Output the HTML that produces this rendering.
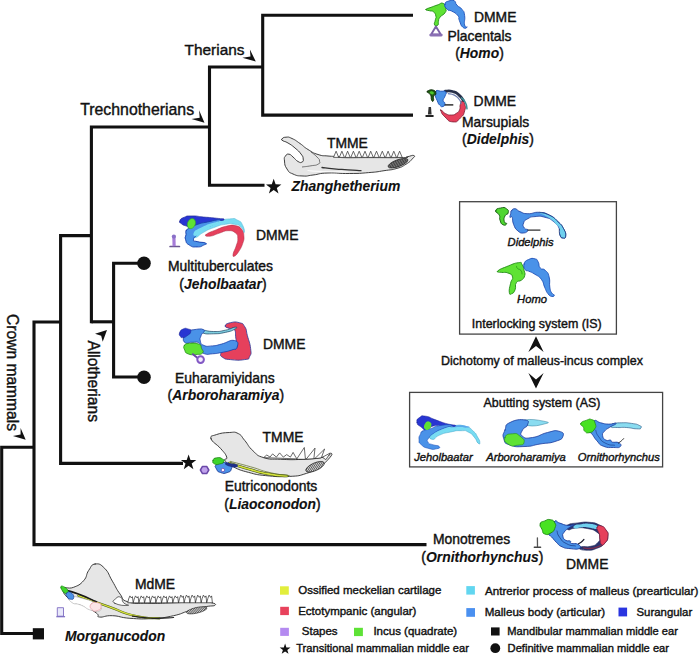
<!DOCTYPE html>
<html>
<head>
<meta charset="utf-8">
<style>
html,body{margin:0;padding:0;background:#fff;}
body{width:700px;height:657px;overflow:hidden;}
svg{display:block;}
text{font-family:"Liberation Sans",sans-serif;fill:#111;stroke:#111;stroke-width:0.4px;}
.c{font-size:15.6px;}
.t{font-size:13.9px;}
.bi{font-weight:bold;font-style:italic;stroke-width:0.1px;}
.s{font-size:11.2px;font-style:italic;}
.m{font-size:12.45px;}
.l{font-size:11.5px;}
.l2{font-size:11.13px;}
</style>
</head>
<body>
<svg width="700" height="657" viewBox="0 0 700 657">
<rect width="700" height="657" fill="#fff"/>
<defs>
<pattern id="hatch" width="1.6" height="1.6" patternUnits="userSpaceOnUse" patternTransform="rotate(55)"><rect width="1.6" height="1.6" fill="#d8d8d8"/><rect width="0.7" height="1.6" fill="#444"/></pattern>
<pattern id="hatch2" width="1.5" height="1.5" patternUnits="userSpaceOnUse" patternTransform="rotate(40)"><rect width="1.5" height="1.5" fill="#777"/><rect width="0.6" height="1.5" fill="#333"/></pattern>
</defs>
<g id="tree" fill="none" stroke="#111" stroke-width="3.1" stroke-linejoin="miter" stroke-linecap="butt">
<path d="M34 633.5 H1.7 V447.3 H34"/>
<path d="M426.5 544.6 H34 V322 H60.6"/>
<path d="M183 463.4 H60.6 V235.6 H91.4"/>
<path d="M140 377 H113.6 V263.2 H140"/>
<path d="M91.4 321.8 H113.6"/>
<path d="M91.4 323.3 V127 H209.5"/>
<path d="M264.5 185.2 H209.5 V67 H262.7"/>
<path d="M413 115.1 H262.7 V15.3 H413"/>
</g>
<g id="markers" fill="#111">
<rect x="32.8" y="628.2" width="11.2" height="11.2"/>
<circle cx="144" cy="263.3" r="6.8"/>
<circle cx="144" cy="377.2" r="6.8"/>
</g>
<path d="M273.7 178.8 L275.6 184.3 L281.4 184.4 L276.8 187.9 L278.5 193.5 L273.7 190.1 L268.9 193.5 L270.6 187.9 L266.0 184.4 L271.8 184.3 Z" fill="#111"/><path d="M188.6 454.5 L190.5 460.0 L196.3 460.1 L191.7 463.6 L193.4 469.2 L188.6 465.8 L183.8 469.2 L185.5 463.6 L180.9 460.1 L186.7 460.0 Z" fill="#111"/><path d="M285.1 643.5 L286.4 647.4 L290.5 647.4 L287.3 649.9 L288.5 653.8 L285.1 651.5 L281.7 653.8 L282.9 649.9 L279.7 647.4 L283.8 647.4 Z" fill="#111"/><g id="arrows" fill="#111">
<path d="M255.8 61.6 L249.9 49.4 L250.5 56.5 L242.3 57.7 Z"/>
<path d="M204.5 122.7 L199.1 110.3 L199.7 117.7 L191.5 118.9 Z"/>
<path d="M25.7 439.7 L20.6 428.1 L20.6 434.6 L12.9 435.9 Z"/>
<path d="M107 330 L95 333.7 L101.2 335.8 L102.7 341.7 Z"/>
<path d="M536 336.3 L543.6 351.9 L536 346 L528.4 351.9 Z"/>
<path d="M536 388.5 L543.6 373 L536 379.5 L528.4 373 Z"/>
</g>
<g id="labels">
<text class="c" x="184.6" y="54.6" style="font-size:15.4px">Therians</text>
<text class="c" x="80.2" y="114.6" style="font-size:15.85px">Trechnotherians</text>
<text class="c" transform="translate(7 314) rotate(90)">Crown mammals</text>
<text class="c" transform="translate(88.3 340.5) rotate(90)">Allotherians</text>

<text class="t" x="474" y="21.8">DMME</text>
<text class="t" x="479.5" text-anchor="middle" y="41">Placentals</text>
<text class="t" x="479.5" text-anchor="middle" y="57.5">(<tspan class="bi">Homo</tspan>)</text>

<text class="t" x="473.6" y="106.4">DMME</text>
<text class="t" x="495.6" y="127.3" text-anchor="middle">Marsupials</text>
<text class="t" x="498" text-anchor="middle" y="143.5">(<tspan class="bi">Didelphis</tspan>)</text>

<text class="t" x="326.9" y="148">TMME</text>
<text class="t bi" x="291.5" y="190.5">Zhanghetherium</text>

<text class="t" x="256" y="240">DMME</text>
<text class="t" x="220.5" text-anchor="middle" y="270.5">Multituberculates</text>
<text class="t" x="223" text-anchor="middle" y="288.5">(<tspan class="bi">Jeholbaatar</tspan>)</text>

<text class="t" x="263" y="349">DMME</text>
<text class="t" x="224.8" text-anchor="middle" y="383.3">Euharamiyidans</text>
<text class="t" x="225.9" text-anchor="middle" y="400.3">(<tspan class="bi">Arboroharamiya</tspan>)</text>

<text class="t" x="262.6" y="442.2">TMME</text>
<text class="t" x="271" text-anchor="middle" y="491">Eutriconodonts</text>
<text class="t" x="272.5" text-anchor="middle" y="509">(<tspan class="bi">Liaoconodon</tspan>)</text>

<text class="t" x="471.5" text-anchor="middle" y="544">Monotremes</text>
<text class="t" x="482.3" text-anchor="middle" y="561.5">(<tspan class="bi">Ornithorhynchus</tspan>)</text>
<text class="t" x="566" y="569">DMME</text>

<text class="t" x="135" y="589">MdME</text>
<text class="t bi" x="65" y="640.5">Morganucodon</text>
</g>
<g id="boxes" fill="none" stroke="#444" stroke-width="1.3">
<rect x="459.6" y="201.7" width="156.8" height="132.4"/>
<rect x="409.6" y="392.4" width="253" height="74.5"/>
</g>
<g id="boxtext">
<text class="s" x="530.6" y="246.2" text-anchor="middle">Didelphis</text>
<text class="s" x="532" y="303" text-anchor="middle">Homo</text>
<text class="m" x="536.8" y="327.5" text-anchor="middle">Interlocking system (IS)</text>
<text class="m" x="542" y="364.6" text-anchor="middle">Dichotomy of malleus-incus complex</text>
<text class="m" x="542" y="407.2" text-anchor="middle">Abutting system (AS)</text>
<text class="s" x="443.4" y="460.8" text-anchor="middle">Jeholbaatar</text>
<text class="s" x="526" y="460.8" text-anchor="middle">Arboroharamiya</text>
<text class="s" x="618.8" y="460.8" text-anchor="middle">Ornithorhynchus</text>
</g>
<g id="legend">
<rect x="280" y="586.3" width="8.8" height="8.4" fill="#e2ee3c"/>
<text class="l" x="298.2" y="594.2">Ossified meckelian cartilage</text>
<rect x="280.2" y="606.8" width="8.7" height="8.3" fill="#e8425c"/>
<text class="l" x="298.2" y="614.8">Ectotympanic (angular)</text>
<rect x="280.2" y="627.8" width="8.7" height="8.1" fill="#b48af0"/>
<text class="l" x="301.8" y="634.6">Stapes</text>
<rect x="354" y="627.8" width="8.9" height="8.3" fill="#5ee236"/>
<text class="l" x="373.4" y="634.8">Incus (quadrate)</text>
<text class="l2" x="296.2" y="652.2">Transitional mammalian middle ear</text>
<rect x="466.3" y="586.1" width="8.6" height="8.5" fill="#62d6f0"/>
<text class="l" x="485" y="594.9" style="font-size:11.6px">Antrerior process of malleus (prearticular)</text>
<rect x="466.3" y="608.1" width="8.7" height="8.7" fill="#4a90f0"/>
<text class="l" x="484.7" y="616.3" style="font-size:11.6px">Malleus body (articular)</text>
<rect x="618.5" y="607.6" width="8.6" height="8.8" fill="#2a35e0"/>
<text class="l" x="636.5" y="616.3" style="font-size:11.4px">Surangular</text>
<rect x="491" y="627.4" width="8.6" height="8.1" fill="#111"/>
<text class="l2" x="507.3" y="635.1">Mandibular mammalian middle ear</text>
<circle cx="495.3" cy="648.2" r="4.9" fill="#111"/>
<text class="l2" x="507.6" y="651.5">Definitive mammalian middle ear</text>
</g>
<g id="homo_top"><path d="M426.0 9.4 C426.6 8.3 427.4 8.7 431.1 7.3 C434.9 5.9 433.1 6.4 437.1 5.1 C441.1 3.9 440.3 2.3 443.1 3.4 C446.0 4.6 445.1 5.4 445.7 8.6 C446.3 11.7 446.7 10.0 444.9 12.9 C443.0 15.7 442.3 14.3 440.1 17.1 C438.0 20.0 439.1 18.9 438.4 21.4 C437.7 24.0 439.3 23.7 438.0 24.9 C436.7 26.0 435.4 26.6 434.6 24.9 C433.7 23.1 435.0 22.6 435.4 19.7 C435.9 16.9 436.4 18.9 435.9 16.3 C435.3 13.7 435.9 13.9 433.7 12.0 C431.6 10.1 432.0 11.6 429.4 10.7 C426.9 9.9 425.4 10.6 426.0 9.4 Z" fill="#5fe234" stroke="#1f8a14" stroke-width="0.9" stroke-linejoin="round" stroke-linecap="round"/><path d="M444.9 4.3 C445.4 1.4 446.0 2.0 449.1 0.9 C452.3 -0.3 451.7 -0.6 454.3 0.9 C456.9 2.3 454.3 2.3 456.9 5.1 C459.4 8.0 459.4 6.0 462.0 9.4 C464.6 12.9 463.7 10.3 464.6 15.4 C465.4 20.6 463.7 21.0 464.6 24.9 C465.4 28.7 467.7 26.2 467.1 27.0 C466.6 27.8 465.4 29.4 462.9 27.3 C460.3 25.1 461.1 24.5 459.4 20.6 C457.7 16.6 460.3 18.6 457.7 15.4 C455.1 12.3 455.1 13.1 451.7 11.1 C448.3 9.1 449.7 11.7 447.4 9.4 C445.1 7.1 444.3 7.1 444.9 4.3 Z" fill="#4a92e8" stroke="#1c4fb8" stroke-width="0.9" stroke-linejoin="round" stroke-linecap="round"/><path d="M435.9 26.4 L431.1 34.5 L440.8 34.5 Z" fill="#fff" stroke="#7c62a8" stroke-width="1.9" stroke-linejoin="round"/><path d="M430.7 35.1 L441.3 35.1" fill="none" stroke="#8a70b4" stroke-width="2.8" stroke-linecap="round"/></g>
<g id="didelphis_top"><path d="M440.8 110.4 C441.6 112.3 440.8 113.1 444.9 116.9 C448.9 120.7 447.9 121.5 453.0 121.9 C458.1 122.2 456.4 121.7 460.3 118.0 C464.2 114.3 463.3 115.4 464.7 110.7 C466.2 106.0 465.3 107.1 464.6 103.9 C463.8 100.6 463.9 100.6 462.4 100.9 C461.0 101.1 461.2 101.6 460.3 104.5 C459.3 107.5 460.9 106.8 459.6 109.7 C458.3 112.6 459.2 111.5 456.4 113.3 C453.7 115.1 454.9 114.9 451.3 115.0 C447.7 115.1 448.7 115.0 445.7 113.7 C442.8 112.4 444.1 112.3 442.5 111.1 C440.8 110.0 440.0 108.5 440.8 110.4 Z" fill="#e6405c" stroke="#7a2035" stroke-width="0.8" stroke-linejoin="round" stroke-linecap="round"/><path d="M445.3 91.2 C447.7 91.3 448.0 90.2 452.6 91.5 C457.1 92.8 455.4 92.1 459.0 95.1 C462.6 98.1 461.9 98.7 463.3 100.4" fill="none" stroke="#27304a" stroke-width="2.8" stroke-linecap="round"/><path d="M461.6 97.9 C462.9 99.4 463.6 98.9 465.4 102.6 C467.2 106.2 466.5 106.7 467.0 108.8" fill="none" stroke="#3f8f96" stroke-width="1.5" stroke-linecap="round"/><path d="M448.3 93.6 C450.3 94.1 450.7 93.3 454.3 95.1 C457.9 97.0 456.7 96.4 459.0 99.1 C461.3 101.9 460.4 102.0 461.1 103.4" fill="none" stroke="#6e7fb0" stroke-width="1.2" stroke-linecap="round"/><path d="M436.3 91.0 C438.0 89.6 437.4 90.9 440.6 91.2 C443.7 91.5 444.2 90.2 445.7 91.9 C447.2 93.5 445.9 93.3 445.0 96.1 C444.2 99.0 443.2 98.0 443.1 100.4 C443.1 102.9 444.9 101.4 444.9 103.4 C444.9 105.4 444.9 105.9 443.1 106.4 C441.4 107.0 441.7 107.1 439.7 105.1 C437.7 103.1 438.6 103.7 437.1 100.4 C435.7 97.1 435.7 98.4 435.4 95.3 C435.1 92.1 434.6 92.4 436.3 91.0 Z" fill="#4a92e8" stroke="#1c4fb8" stroke-width="0.9" stroke-linejoin="round" stroke-linecap="round"/><path d="M427.3 91.4 C428.7 90.4 430.0 89.3 432.9 90.0 C435.7 90.7 435.6 91.5 435.9 93.6 C436.1 95.6 434.5 93.8 433.7 96.1 C432.9 98.5 434.2 99.3 433.5 100.6 C432.7 101.9 432.5 101.8 431.6 100.0 C430.7 98.2 431.7 97.6 430.7 95.3 C429.7 93.0 429.7 94.4 428.6 93.1 C427.4 91.9 425.9 92.5 427.3 91.4 Z" fill="#1e5a12" stroke="#0c2a08" stroke-width="0.9" stroke-linejoin="round" stroke-linecap="round"/><path d="M429.9 92.0 C430.3 91.2 431.6 91.2 432.9 91.7 C434.1 92.2 434.1 92.7 433.7 93.6 C433.3 94.4 432.9 94.8 431.6 94.3 C430.3 93.7 429.4 92.9 429.9 92.0 Z" fill="#4cc82c" stroke-linejoin="round" stroke-linecap="round"/><path d="M444.7 104.9 L453.3 104.9" fill="none" stroke="#111" stroke-width="1.3"/><path d="M428.6 106.9 L431.0 106.9 L431.6 114.6 L427.9 114.6 Z" fill="#333"/><path d="M426.2 116.0 L432.9 116.0" fill="none" stroke="#222" stroke-width="1.8" stroke-linecap="round"/></g>
<g id="zhang"><path d="M282.0 139.0 C282.9 137.9 283.0 137.3 286.0 137.2 C289.0 137.0 287.8 136.6 292.0 138.5 C296.2 140.4 295.2 140.2 300.0 143.5 C304.8 146.8 302.6 146.2 308.0 149.5 C313.4 152.8 312.0 152.6 318.0 154.5 C324.0 156.4 322.0 155.4 328.0 156.0 C334.0 156.6 333.5 156.1 338.0 156.6 C342.5 157.1 333.7 157.3 342.9 157.6 C352.0 157.9 350.8 157.6 368.6 157.6 C386.3 157.6 390.4 157.8 402.0 157.6 C413.6 157.4 403.6 157.4 407.1 156.8 C410.7 156.2 412.3 154.9 413.8 155.5 C415.4 156.2 414.7 156.3 412.3 158.9 C409.9 161.5 410.5 161.4 405.9 164.3 C401.2 167.1 403.4 166.5 396.9 168.4 C390.3 170.3 392.5 169.4 384.0 170.7 C375.5 172.0 379.0 171.8 368.6 172.6 C358.2 173.5 361.5 173.4 349.3 173.5 C337.1 173.7 338.9 172.6 328.0 173.0 C317.1 173.4 320.5 174.1 313.0 175.0 C305.5 175.9 309.0 176.3 303.0 176.0 C297.0 175.7 297.8 176.1 293.0 174.0 C288.2 171.9 289.6 172.9 287.0 169.0 C284.4 165.1 284.9 164.9 284.5 161.0 C284.1 157.1 284.1 158.0 285.5 156.0 C286.9 154.0 286.8 153.9 289.0 154.2 C291.2 154.5 290.3 154.8 293.0 157.0 C295.7 159.2 295.3 160.0 298.0 161.5 C300.7 163.0 300.4 162.8 302.0 162.0 C303.6 161.2 303.5 161.4 303.2 159.0 C302.9 156.6 303.5 157.3 301.0 154.0 C298.5 150.7 298.9 151.3 295.0 148.0 C291.1 144.7 291.6 145.2 288.0 143.0 C284.4 140.8 284.8 142.0 283.0 140.8 C281.2 139.6 281.1 140.1 282.0 139.0 Z" fill="#e6e6e6" stroke="#2a2a2a" stroke-width="0.9" stroke-linejoin="round" stroke-linecap="round"/><path d="M302.0 167.0 C305.0 166.6 305.7 166.7 311.0 165.8 C316.3 164.9 315.2 165.8 318.0 164.2 C320.8 162.6 319.8 163.4 319.5 161.0 C319.2 158.6 319.8 160.0 317.0 157.0 C314.2 154.0 313.0 153.7 311.0 152.0" fill="none" stroke="#444" stroke-width="0.7"/><path d="M322.0 167.5 C326.0 167.9 325.3 168.0 334.0 168.8 C342.7 169.6 339.0 169.2 348.0 169.8 C357.0 170.4 356.7 170.3 361.0 170.6" fill="none" stroke="#333" stroke-width="1.3" stroke-linecap="round"/><path d="M308.0 170.5 C313.0 170.8 309.7 171.0 323.0 171.5 C336.3 172.0 339.7 171.8 348.0 172.0" fill="none" stroke="#fff" stroke-width="1.2" stroke-linecap="round" opacity="0.8"/><path d="M333.5 157.4 L336.1 151.2 L338.7 157.4 Z" fill="#fff" stroke="#2a2a2a" stroke-width="0.7" stroke-linejoin="round"/><path d="M339.3 157.4 L341.9 151.2 L344.4 157.4 Z" fill="#fff" stroke="#2a2a2a" stroke-width="0.7" stroke-linejoin="round"/><path d="M345.1 157.4 L347.6 151.2 L350.2 157.4 Z" fill="#fff" stroke="#2a2a2a" stroke-width="0.7" stroke-linejoin="round"/><path d="M350.8 157.4 L353.4 151.2 L356.0 157.4 Z" fill="#fff" stroke="#2a2a2a" stroke-width="0.7" stroke-linejoin="round"/><path d="M356.6 157.4 L359.2 151.2 L361.8 157.4 Z" fill="#fff" stroke="#2a2a2a" stroke-width="0.7" stroke-linejoin="round"/><path d="M362.4 157.4 L365.0 151.2 L367.5 157.4 Z" fill="#fff" stroke="#2a2a2a" stroke-width="0.7" stroke-linejoin="round"/><path d="M368.2 157.4 L370.7 151.2 L373.3 157.4 Z" fill="#fff" stroke="#2a2a2a" stroke-width="0.7" stroke-linejoin="round"/><path d="M373.9 157.4 L376.5 151.2 L379.1 157.4 Z" fill="#fff" stroke="#2a2a2a" stroke-width="0.7" stroke-linejoin="round"/><path d="M379.7 157.4 L382.3 151.2 L384.9 157.4 Z" fill="#fff" stroke="#2a2a2a" stroke-width="0.7" stroke-linejoin="round"/><path d="M385.5 157.4 L388.1 151.2 L390.6 157.4 Z" fill="#fff" stroke="#2a2a2a" stroke-width="0.7" stroke-linejoin="round"/><path d="M391.2 157.4 L393.8 151.2 L396.4 157.4 Z" fill="#fff" stroke="#2a2a2a" stroke-width="0.7" stroke-linejoin="round"/><path d="M397.0 157.4 L399.6 151.2 L402.2 157.4 Z" fill="#fff" stroke="#2a2a2a" stroke-width="0.7" stroke-linejoin="round"/><ellipse cx="398" cy="163.2" rx="10.5" ry="3.4" transform="rotate(-20 398 163.2)" fill="url(#hatch2)" stroke="#222" stroke-width="0.7"/></g>
<g id="jehol"><path d="M205.9 234.6 C207.6 232.8 210.9 231.9 216.4 229.7 C222.0 227.4 221.7 227.2 226.7 226.1 C231.7 225.0 231.1 224.8 235.1 225.6 C239.0 226.3 239.1 226.2 241.5 228.9 C243.9 231.7 243.6 231.9 243.9 235.9 C244.3 239.8 244.0 239.5 242.7 243.6 C241.3 247.7 241.1 247.9 238.9 251.3 C236.7 254.6 236.0 255.5 234.4 256.2 C232.9 256.9 232.7 256.5 233.1 253.9 C233.6 251.2 234.9 250.2 236.1 246.1 C237.3 242.1 237.9 242.2 237.8 238.7 C237.6 235.2 238.1 235.2 235.5 233.0 C232.9 230.9 232.4 230.6 228.0 230.7 C223.6 230.8 223.8 231.8 219.0 233.3 C214.2 234.8 213.5 235.9 210.0 236.2 C206.5 236.6 204.2 236.3 205.9 234.6 Z" fill="#e6405c" stroke="#a83048" stroke-width="0.5" stroke-linejoin="round" stroke-linecap="round"/><path d="M191.4 231.4 C195.0 227.9 195.2 228.8 203.6 225.6 C211.9 222.4 207.9 223.9 216.4 221.7 C225.0 219.5 222.2 219.4 229.3 218.9 C236.4 218.4 233.1 217.9 237.6 220.2 C242.1 222.4 240.6 221.4 242.8 225.6 C244.9 229.7 244.6 232.1 244.1 232.6 C243.5 233.2 244.3 229.9 241.1 227.1 C237.9 224.3 239.7 225.2 234.4 224.3 C229.2 223.3 232.3 223.2 225.4 224.3 C218.6 225.4 221.1 225.0 213.9 227.6 C206.6 230.3 209.6 229.0 203.6 232.3 C197.6 235.5 199.5 236.2 195.9 237.4 C192.2 238.6 194.1 237.9 192.6 235.9 C191.1 233.8 187.7 234.8 191.4 231.4 Z" fill="#78dcf2" stroke="#4ab0d0" stroke-width="0.5" stroke-linejoin="round" stroke-linecap="round"/><path d="M179.8 221.1 C180.6 218.8 180.2 218.9 184.3 217.2 C188.4 215.5 185.6 216.0 192.0 215.9 C198.4 215.8 195.4 216.2 203.6 217.0 C211.7 217.7 209.6 217.4 216.4 218.2 C223.3 219.1 224.1 218.3 224.1 219.4 C224.1 220.5 222.4 220.2 216.4 221.5 C210.4 222.7 212.6 222.1 206.1 223.3 C199.7 224.4 202.3 223.6 197.1 224.9 C192.0 226.2 194.6 226.8 190.7 227.1 C186.9 227.4 188.6 226.9 185.6 225.8 C182.6 224.8 183.6 225.5 181.7 223.9 C179.8 222.3 178.9 223.3 179.8 221.1 Z" fill="#2836d2" stroke="#1a2290" stroke-width="0.6" stroke-linejoin="round" stroke-linecap="round"/><path d="M186.2 230.7 C187.4 228.6 185.8 230.2 189.4 228.1 C193.1 226.1 191.1 226.6 197.1 224.5 C203.1 222.5 199.7 223.5 207.4 222.0 C215.1 220.4 218.1 219.1 220.3 219.9 C222.4 220.7 219.4 221.3 213.9 224.3 C208.3 227.2 209.1 225.4 203.6 228.8 C198.0 232.2 200.5 230.9 197.1 234.6 C193.8 238.2 193.5 237.4 193.5 239.7 C193.5 242.1 193.2 240.5 197.1 241.6 C201.1 242.8 203.4 241.9 205.5 243.1 C207.6 244.2 206.4 243.8 203.6 245.1 C200.8 246.4 201.9 246.9 197.1 246.9 C192.4 246.9 193.3 247.5 189.4 245.1 C185.6 242.7 186.7 243.2 185.6 239.7 C184.4 236.2 185.7 237.6 186.0 234.6 C186.2 231.6 185.1 232.9 186.2 230.7 Z" fill="#4a92e8" stroke="#1c44b0" stroke-width="1.0" stroke-linejoin="round" stroke-linecap="round"/><path d="M193.9 232.6 C195.4 229.8 196.1 230.3 202.3 227.1 C208.5 223.9 206.1 225.0 212.6 223.0 C219.0 221.0 220.5 220.6 221.6 221.1 C222.6 221.6 221.1 221.8 215.8 224.5 C210.4 227.2 211.5 225.5 205.5 229.2 C199.5 232.9 201.6 234.4 197.8 235.6 C193.9 236.8 192.4 235.5 193.9 232.6 Z" fill="#78dcf2" stroke-linejoin="round" stroke-linecap="round"/><ellipse cx="191.4" cy="223.6" rx="3.9" ry="5.2" transform="rotate(22 191.4 223.6)" fill="#5fe234" stroke="#2faa20" stroke-width="0.5"/><path d="M170.1 246.5 L179.4 246.5" fill="none" stroke="#6a5690" stroke-width="1.7" stroke-linecap="round"/><path d="M173.9 236.9 L174.1 246.1" fill="none" stroke="#a67cd8" stroke-width="3.2"/><circle cx="173.9" cy="236.6" r="2.1" fill="#8a70c8"/></g>
<g id="arboro"><path d="M225.3 325.9 C225.6 324.2 226.2 323.7 230.4 322.7 C234.7 321.8 235.1 321.5 239.4 322.7 C243.7 323.9 242.4 323.0 244.8 326.8 C247.2 330.7 245.7 329.1 247.4 335.6 C249.1 342.1 249.9 342.2 250.6 348.4 C251.3 354.7 251.5 353.0 249.7 356.4 C247.9 359.8 250.4 358.6 244.6 359.6 C238.8 360.6 237.0 360.3 230.4 359.6 C223.9 359.0 225.6 359.2 222.7 357.4 C219.8 355.6 220.4 355.4 220.8 353.6 C221.2 351.7 220.7 352.4 224.0 351.3 C227.3 350.1 227.9 350.9 231.7 349.7 C235.6 348.5 235.6 350.6 236.9 347.1 C238.1 343.7 236.6 343.5 235.8 338.1 C235.1 332.8 236.2 332.3 234.3 329.4 C232.4 326.5 232.1 329.4 229.4 328.4 C226.7 327.3 225.0 327.6 225.3 325.9 Z" fill="#e6405c" stroke="#2a3a9a" stroke-width="0.8" stroke-linejoin="round" stroke-linecap="round"/><path d="M202.1 330.2 C205.8 329.7 206.0 331.5 213.7 331.5 C221.4 331.5 218.2 331.6 225.3 330.2 C232.4 328.8 231.9 327.5 234.9 327.2 C237.9 327.0 237.5 327.7 234.3 329.4 C231.1 331.1 232.1 330.9 225.3 332.4 C218.4 333.8 221.2 333.6 213.7 333.8 C206.2 334.0 206.6 334.2 202.8 333.0 C198.9 331.8 198.5 330.7 202.1 330.2 Z" fill="#7ecfe0" stroke="#1a4060" stroke-width="0.7" stroke-linejoin="round" stroke-linecap="round"/><path d="M186.7 331.7 C189.6 329.6 188.1 330.4 193.1 329.8 C198.2 329.2 201.3 328.1 203.7 329.8 C206.1 331.5 202.1 332.3 201.1 335.6 C200.1 338.8 199.6 337.8 200.3 340.7 C201.1 343.6 200.1 343.8 203.7 345.3 C207.3 346.9 207.1 346.2 212.4 345.9 C217.8 345.5 214.8 345.7 221.4 344.1 C228.1 342.4 229.8 339.5 234.5 340.5 C239.2 341.4 238.0 344.3 237.1 347.1 C236.3 350.0 236.4 348.4 231.7 350.0 C227.0 351.6 227.2 351.4 221.4 352.5 C215.6 353.7 217.4 353.4 212.4 353.8 C207.4 354.2 208.2 355.0 204.7 353.8 C201.2 352.7 202.4 353.1 200.9 350.0 C199.3 346.9 202.3 345.9 199.6 343.5 C196.9 341.2 196.1 342.5 191.9 342.3 C187.6 342.0 187.9 344.4 185.4 342.8 C182.9 341.2 183.1 340.2 183.5 336.9 C183.9 333.5 183.8 333.8 186.7 331.7 Z" fill="#4a92e8" stroke="#1c3fa8" stroke-width="0.8" stroke-linejoin="round" stroke-linecap="round"/><path d="M179.6 333.0 C180.5 330.6 180.1 330.5 182.9 329.1 C185.6 327.8 185.3 328.0 188.0 328.9 C190.7 329.7 191.2 329.4 190.8 331.7 C190.5 334.0 189.6 333.9 187.0 335.8 C184.3 337.8 185.1 337.5 182.9 337.6 C180.6 337.8 181.4 337.9 180.3 336.3 C179.2 334.8 178.8 335.4 179.6 333.0 Z" fill="#2836d2" stroke="#1a2290" stroke-width="0.5" stroke-linejoin="round" stroke-linecap="round"/><path d="M184.5 345.3 C185.9 343.4 185.1 343.8 189.3 343.4 C193.5 343.0 194.8 342.6 198.5 344.1 C202.2 345.6 200.5 345.7 201.6 348.4 C202.8 351.1 204.2 351.2 202.4 353.1 C200.6 354.9 200.0 354.2 195.7 354.5 C191.4 354.7 191.3 355.2 188.0 353.8 C184.7 352.5 185.7 352.5 184.7 350.0 C183.6 347.4 183.1 347.3 184.5 345.3 Z" fill="#5fe234" stroke="#228a18" stroke-width="0.8" stroke-linejoin="round" stroke-linecap="round"/><path d="M192.9 354.2 L197.6 358.1" fill="none" stroke="#6a48a8" stroke-width="2" stroke-linecap="round"/><circle cx="200.6" cy="359.6" r="3.3" fill="#f4ecff" stroke="#8258c4" stroke-width="2"/></g>
<g id="liao"><path d="M211.1 438.9 C209.9 435.2 211.6 436.4 216.4 434.6 C221.3 432.9 223.5 432.8 229.3 432.5 C235.1 432.2 234.2 431.5 238.3 433.6 C242.4 435.7 240.8 435.9 244.7 440.4 C248.6 445.0 247.8 446.1 252.9 450.7 C257.9 455.3 256.1 455.3 263.6 457.6 C271.0 459.9 270.4 458.8 280.7 459.3 C291.0 459.7 290.7 459.9 302.1 459.3 C313.6 458.7 315.7 458.7 323.6 457.1 C331.4 455.6 330.2 452.9 331.5 453.5 C332.8 454.1 331.5 455.7 328.3 459.3 C325.0 462.9 325.1 463.2 319.3 467.0 C313.5 470.8 314.4 470.9 306.4 473.4 C298.4 475.9 300.1 475.9 289.3 476.4 C278.4 477.0 276.6 476.7 265.7 475.6 C254.9 474.5 257.1 474.6 248.6 472.4 C240.0 470.1 239.9 470.1 233.6 467.0 C227.3 463.9 226.8 463.2 225.0 460.6 C223.2 457.9 227.9 460.3 226.7 457.1 C225.6 453.9 224.9 453.4 220.7 448.6 C216.5 443.7 212.2 442.6 211.1 438.9 Z" fill="#e6e6e6" stroke="#2a2a2a" stroke-width="0.9" stroke-linejoin="round" stroke-linecap="round"/><path d="M263.6 457.6 L266.8 455.0 L270.0 457.1 L272.6 453.9 L276.4 457.1 L279.6 452.9 L283.3 457.1 L286.7 454.6 L290.4 457.1 L293.1 452.4 L295.7 457.1 L297.4 458.9 Z" fill="#fff" stroke="#2a2a2a" stroke-width="0.7" stroke-linejoin="round"/><path d="M296.8 458.9 L304.3 447.5 L305.4 458.9 Z" fill="#fff" stroke="#2a2a2a" stroke-width="0.7" stroke-linejoin="round" stroke-linecap="round"/><path d="M306.4 458.9 L315.0 448.1 L313.9 458.4 Z" fill="#fff" stroke="#2a2a2a" stroke-width="0.7" stroke-linejoin="round" stroke-linecap="round"/><path d="M315.0 458.4 L324.6 449.0 L321.4 457.6 Z" fill="#fff" stroke="#2a2a2a" stroke-width="0.7" stroke-linejoin="round" stroke-linecap="round"/><path d="M322.7 457.1 L330.4 452.9 L326.1 459.3 Z" fill="#fff" stroke="#2a2a2a" stroke-width="0.7" stroke-linejoin="round" stroke-linecap="round"/><ellipse cx="315.0" cy="466.8" rx="10" ry="3.8" transform="rotate(-24 315.0 466.8)" fill="url(#hatch)" stroke="#222" stroke-width="0.7"/><path d="M229.3 463.1 C235.7 465.1 235.7 465.4 248.6 468.9 C261.4 472.5 255.0 471.5 267.9 473.9 C280.7 476.2 280.7 475.3 287.1 476.0" fill="none" stroke="#3a4a10" stroke-width="2.6" stroke-linecap="round"/><path d="M229.3 463.1 C235.7 465.1 235.7 465.4 248.6 468.9 C261.4 472.5 255.0 471.5 267.9 473.9 C280.7 476.2 280.7 475.3 287.1 476.0" fill="none" stroke="#d4e23c" stroke-width="1.6" stroke-linecap="round"/><path d="M230.4 461.4 C237.1 463.2 237.5 463.1 250.7 466.8 C263.9 470.5 257.1 469.6 270.0 472.6 C282.9 475.5 282.9 474.6 289.3 475.6" fill="none" stroke="#5a6a20" stroke-width="0.7" stroke-linecap="round"/><path d="M216.4 464.6 C218.6 462.5 218.2 462.5 222.9 462.5 C227.5 462.5 227.5 462.5 230.4 464.6 C233.2 466.8 232.5 466.3 231.4 468.9 C230.4 471.6 230.7 471.4 227.1 472.6 C223.6 473.8 224.3 473.8 220.7 472.6 C217.1 471.4 217.9 471.6 216.4 468.9 C215.0 466.3 214.3 466.8 216.4 464.6 Z" fill="#4a92e8" stroke="#16308a" stroke-width="0.8" stroke-linejoin="round" stroke-linecap="round"/><path d="M213.0 460.4 C213.7 458.3 213.7 458.3 216.9 457.8 C220.0 457.3 220.1 457.5 222.4 458.9 C224.7 460.2 224.6 460.1 223.7 461.9 C222.8 463.6 222.6 463.3 219.6 464.0 C216.6 464.7 216.9 465.2 214.7 464.0 C212.5 462.8 212.3 462.4 213.0 460.4 Z" fill="#3ed42a" stroke="#1a7a14" stroke-width="0.7" stroke-linejoin="round" stroke-linecap="round"/><path d="M225.0 463.6 C225.4 462.4 228.2 462.7 232.5 463.6 C236.8 464.4 238.2 465.0 237.9 466.1 C237.5 467.3 235.7 467.9 231.4 467.0 C227.1 466.1 224.6 464.7 225.0 463.6 Z" fill="#20308a" stroke-linejoin="round" stroke-linecap="round"/><circle cx="222.9" cy="470.0" r="1.7" fill="#fff" stroke="#6a3aa8" stroke-width="0.7"/><path d="M208.8 470.0 L206.7 473.6 L202.5 473.6 L200.4 470.0 L202.5 466.4 L206.7 466.4 Z" fill="#c0a2ec" stroke="#6a48a8" stroke-width="1.5" stroke-linejoin="round"/></g>
<g id="ornitho"><path d="M567.7 525.1 C570.6 523.1 571.5 523.7 578.0 522.9 C584.5 522.1 583.3 521.8 589.4 522.3 C595.6 522.9 593.8 522.4 598.6 524.6 C603.4 526.8 602.6 526.2 605.4 529.7 C608.2 533.2 608.2 532.2 607.9 536.3 C607.7 540.4 608.0 539.7 604.5 543.4 C601.0 547.0 601.5 546.5 596.3 548.5 C591.1 550.6 592.3 550.2 587.1 550.2 C582.0 550.3 580.9 549.7 579.1 548.6 C577.4 547.6 578.0 547.5 581.4 546.8 C584.9 546.1 585.8 547.5 590.6 546.3 C595.4 545.2 594.7 545.6 597.4 542.9 C600.2 540.2 600.0 540.7 599.7 537.4 C599.4 534.1 600.3 534.6 596.5 531.9 C592.7 529.3 593.4 529.7 587.1 528.5 C580.9 527.3 581.4 527.7 575.7 528.1 C570.1 528.4 570.7 530.5 568.3 529.7 C565.9 528.8 564.8 527.1 567.7 525.1 Z" fill="#2a3570" stroke="#1a2050" stroke-width="0.6" stroke-linejoin="round" stroke-linecap="round"/><path d="M603.1 544.1 C601.0 545.1 601.4 545.7 596.9 547.1 C592.3 548.6 593.8 548.2 589.4 548.5 C585.0 548.8 585.6 548.1 583.7 547.9" fill="none" stroke="#7a3050" stroke-width="1.4" stroke-linecap="round"/><path d="M574.3 525.8 C576.3 524.3 576.4 524.8 581.4 524.2 C586.5 523.5 584.4 523.4 589.4 523.8 C594.5 524.3 593.7 524.4 596.6 525.5 C599.6 526.7 598.5 526.2 598.3 527.4 C598.2 528.5 599.4 528.9 596.1 529.0 C592.7 529.0 593.2 528.1 588.3 527.5 C583.4 526.9 585.7 526.9 581.4 527.3 C577.2 527.6 577.8 529.0 575.5 528.5 C573.1 528.0 572.4 527.2 574.3 525.8 Z" fill="#6fd0ee" stroke-linejoin="round" stroke-linecap="round"/><path d="M597.2 527.1 C598.3 525.4 598.5 525.0 601.4 526.0 C604.4 527.0 603.8 526.6 606.0 530.0 C608.2 533.4 608.3 531.9 607.9 536.3 C607.6 540.7 607.0 540.5 604.9 543.1 C602.7 545.8 603.1 545.6 601.4 544.3 C599.8 543.0 600.6 542.4 599.9 539.1 C599.3 535.9 600.1 537.2 599.5 534.6 C598.8 531.9 598.8 533.6 598.0 531.1 C597.2 528.7 596.1 528.9 597.2 527.1 Z" fill="#e6405c" stroke="#7a2040" stroke-width="0.8" stroke-linejoin="round" stroke-linecap="round"/><path d="M554.6 521.4 C556.6 519.2 555.8 521.9 559.7 523.1 C563.7 524.3 563.4 525.0 567.7 525.4 C572.0 525.9 573.8 523.8 574.0 524.6 C574.2 525.5 571.3 526.0 568.3 528.3 C565.3 530.6 565.7 529.9 564.1 532.3 C562.4 534.7 562.4 533.9 562.9 536.3 C563.4 538.7 563.5 538.8 565.7 540.3 C567.9 541.7 568.5 540.2 570.2 541.1 C571.9 542.0 569.0 542.4 571.4 543.4 C573.7 544.3 575.6 542.8 578.0 544.3 C580.4 545.8 581.8 547.1 579.4 548.4 C577.0 549.7 575.2 549.1 570.0 548.6 C564.8 548.1 566.1 548.7 562.0 546.8 C557.9 544.9 559.4 545.2 556.3 542.2 C553.2 539.3 553.9 539.4 551.7 537.0 C549.5 534.5 548.5 535.9 548.9 534.0 C549.2 532.1 551.1 534.3 552.9 530.6 C554.6 526.8 552.5 523.7 554.6 521.4 Z" fill="#4a92e8" stroke="#1a3a9a" stroke-width="0.9" stroke-linejoin="round" stroke-linecap="round"/><path d="M556.9 530.6 C557.8 532.9 556.5 533.0 559.7 537.4 C563.0 541.8 561.2 540.9 566.6 543.7 C571.9 546.6 572.7 545.2 575.7 546.0" fill="none" stroke="#16307a" stroke-width="0.7"/><path d="M578.6 543.7 C579.5 543.1 579.6 543.4 581.4 542.0 C583.2 540.6 583.1 540.3 583.9 539.5" fill="none" stroke="#1a1a2a" stroke-width="1.2" stroke-linecap="round"/><path d="M540.3 523.7 C541.2 520.9 541.6 522.2 544.9 520.9 C548.1 519.5 546.8 519.1 550.0 519.7 C553.2 520.3 553.0 519.7 554.6 522.6 C556.2 525.4 556.1 524.9 554.8 528.3 C553.5 531.7 554.1 531.0 550.8 532.9 C547.5 534.8 547.8 535.1 544.9 534.0 C541.9 532.9 543.5 532.9 542.0 529.4 C540.5 526.0 539.3 526.6 540.3 523.7 Z" fill="#48e222" stroke="#1f8a14" stroke-width="0.9" stroke-linejoin="round" stroke-linecap="round"/><path d="M537.4 537.8 L537.5 546.6" fill="none" stroke="#555" stroke-width="1.3" stroke-linecap="round"/><path d="M534.3 547.3 L540.6 547.3" fill="none" stroke="#444" stroke-width="1.4" stroke-linecap="round"/></g>
<g id="morgan"><path d="M95.1 564.0 C99.4 563.5 100.1 563.8 104.7 568.4 C109.3 573.0 108.3 574.4 112.4 581.2 C116.5 588.1 116.0 588.6 120.1 594.1 C124.2 599.6 120.4 599.3 127.8 601.8 C135.2 604.3 135.7 603.1 147.9 603.3 C160.1 603.6 159.9 603.2 173.6 602.8 C187.3 602.4 189.7 601.9 199.3 601.8 C208.9 601.7 205.3 601.4 209.6 602.3 C213.8 603.2 216.6 603.9 215.2 605.1 C213.9 606.4 211.4 605.4 204.4 606.9 C197.4 608.5 197.2 608.5 189.0 610.8 C180.8 613.1 183.2 613.6 173.6 615.7 C164.0 617.7 164.7 617.8 153.0 618.5 C141.3 619.2 140.7 619.0 129.9 618.3 C119.0 617.5 120.5 616.0 112.4 615.7 C104.3 615.3 103.8 617.7 99.5 617.0 C95.3 616.3 100.7 616.2 96.4 613.1 C92.2 610.0 90.4 608.8 83.6 605.4 C76.7 602.0 76.2 604.6 70.7 600.3 C65.2 595.9 62.3 592.4 63.0 588.9 C63.7 585.5 67.8 589.6 73.3 587.4 C78.8 585.2 79.5 585.2 83.6 580.7 C87.7 576.2 85.6 574.9 88.7 570.4 C91.8 566.0 90.9 564.5 95.1 564.0 Z" fill="#e6e6e6" stroke="#2a2a2a" stroke-width="0.9" stroke-linejoin="round" stroke-linecap="round"/><path d="M114.9 603.3 C110.9 601.1 113.7 600.7 115.7 598.7 C117.7 596.7 118.3 596.1 120.9 597.4 C123.4 598.7 121.1 599.9 123.4 602.6 C125.7 605.2 130.6 605.1 127.8 605.4 C125.0 605.7 119.0 605.6 114.9 603.3 Z" fill="#fff" stroke="#2a2a2a" stroke-width="0.7" stroke-linejoin="round" stroke-linecap="round"/><path d="M127.8 602.8 L128.6 599.0 L129.9 595.9 L131.4 598.0 L132.4 596.6 L133.2 602.8 L134.2 599.0 L135.5 595.9 L137.1 598.0 L138.1 596.6 L138.9 602.8 L139.9 599.0 L141.2 595.9 L142.7 598.0 L143.7 596.6 L144.5 602.8 L145.5 599.0 L146.8 595.9 L148.4 598.0 L149.4 596.6 L150.2 602.8 L151.2 599.0 L152.5 595.9 L154.0 598.0 L155.1 596.6 L155.8 602.8 L156.9 599.0 L158.1 595.9 L159.7 598.0 L160.7 596.6 L161.5 602.8 L162.5 599.0 L163.8 595.9 L165.3 598.0 L166.4 596.6 L167.1 602.8 L168.2 599.0 L169.5 595.9 L171.0 598.0 L172.0 596.6 L172.8 602.8 L173.8 599.0 L175.1 595.9 L176.7 598.0 L177.7 596.6 L178.5 602.8 L179.5 598.6 L180.8 595.1 L182.3 597.4 L183.3 595.9 L184.1 602.8 L185.1 598.6 L186.4 595.1 L188.0 597.4 L189.0 595.9 L189.8 602.8 L190.8 598.6 L192.1 595.1 L193.6 597.4 L194.7 595.9 L195.4 602.8 L196.5 598.6 L197.7 595.1 L199.3 597.4 L200.3 595.9 L201.1 602.8 L202.1 598.6 L203.4 595.1 L204.9 597.4 L206.0 595.9 L206.7 602.8 L207.8 598.6 L209.1 595.1 L210.6 597.4 L211.6 595.9 L212.4 602.8 L212.7 602.8 Z" fill="#fff" stroke="#2a2a2a" stroke-width="0.7" stroke-linejoin="round"/><ellipse cx="196.7" cy="610.3" rx="10.5" ry="2.8" transform="rotate(-13 196.7 610.3)" fill="url(#hatch)" stroke="#222" stroke-width="0.6"/><path d="M78.4 595.6 C88.7 599.4 90.4 600.3 109.3 606.9 C128.1 613.6 118.3 611.9 135.0 615.7 C151.7 619.5 151.3 617.4 159.4 618.3" fill="none" stroke="#4a5a18" stroke-width="2.2" stroke-linecap="round"/><path d="M78.4 595.6 C88.7 599.4 90.4 600.3 109.3 606.9 C128.1 613.6 118.3 611.9 135.0 615.7 C151.7 619.5 151.3 617.4 159.4 618.3" fill="none" stroke="#d4e03a" stroke-width="1.3" stroke-linecap="round"/><path d="M132.4 616.2 C139.3 616.9 139.3 617.8 153.0 618.3 C166.7 618.7 166.7 617.7 173.6 617.5" fill="none" stroke="#222" stroke-width="1.2" stroke-linecap="round"/><path d="M63.5 589.7 C68.5 591.2 67.5 590.1 78.4 594.1 C89.4 598.1 90.4 599.2 96.4 601.8" fill="none" stroke="#1a1a1a" stroke-width="1.6" stroke-linecap="round"/><path d="M70.7 597.4 C74.6 596.1 75.0 596.4 83.6 598.7 C92.1 601.0 90.9 600.5 96.4 604.4 C102.0 608.2 102.0 608.3 100.3 610.3 C98.6 612.3 97.7 612.0 91.3 610.3 C84.9 608.6 87.4 607.7 81.0 605.1 C74.6 602.6 75.4 605.1 72.0 602.6 C68.6 600.0 66.9 598.7 70.7 597.4 Z" fill="#fff" stroke="#999" stroke-width="0.5" stroke-linejoin="round" stroke-linecap="round"/><path d="M91.3 603.9 C93.3 601.6 94.5 602.0 97.7 602.8 C101.0 603.7 101.1 603.9 101.1 606.4 C101.1 609.0 100.8 609.5 97.7 610.5 C94.6 611.6 93.9 611.7 91.8 609.5 C89.7 607.3 89.3 606.1 91.3 603.9 Z" fill="#fbe4e6" stroke="#e08a96" stroke-width="0.6" stroke-linejoin="round" stroke-linecap="round"/><path d="M60.9 587.9 C60.3 585.5 61.7 585.4 64.3 586.9 C66.9 588.3 68.1 589.9 68.7 592.3 C69.3 594.7 68.7 595.5 66.1 594.1 C63.5 592.6 61.5 590.3 60.9 587.9 Z" fill="#3ed42a" stroke="#1a7a14" stroke-width="0.6" stroke-linejoin="round" stroke-linecap="round"/><path d="M66.6 593.1 C67.8 591.7 68.3 591.1 70.7 592.5 C73.1 594.0 74.0 595.2 73.8 597.4 C73.6 599.7 72.4 599.5 70.2 599.2 C68.0 599.0 68.3 598.7 67.1 596.7 C65.9 594.6 65.4 594.4 66.6 593.1 Z" fill="#4a92e8" stroke="#16308a" stroke-width="0.6" stroke-linejoin="round" stroke-linecap="round"/><path d="M57.3 607.7 L63.5 607.7 L63.5 616.2 L57.3 616.2 Z" fill="#e8e8fa" stroke="#8a7ac8" stroke-width="1"/><path d="M56.3 616.7 L65.1 616.7" fill="none" stroke="#7a6ac0" stroke-width="1.2"/></g>
<g id="bx1"><path d="M511.4 210.9 C512.7 209.4 512.4 208.5 515.0 208.7 C517.6 208.9 516.1 210.1 520.0 211.6 C523.9 213.1 522.1 213.5 527.9 213.7 C533.6 213.9 532.9 211.9 539.3 212.3 C545.7 212.7 543.7 212.4 549.3 215.1 C554.9 217.9 553.6 217.5 557.9 221.6 C562.1 225.6 561.2 224.4 563.6 228.7 C565.9 233.0 565.9 233.1 565.7 235.9 C565.5 238.6 564.6 238.2 562.9 238.0 C561.1 237.8 561.1 237.9 560.0 235.1 C558.9 232.4 561.2 232.8 559.3 228.7 C557.4 224.6 557.9 225.0 553.6 221.6 C549.3 218.1 550.6 218.8 545.0 217.3 C539.4 215.8 540.1 216.1 535.0 216.6 C529.9 217.0 531.3 216.8 527.9 218.7 C524.4 220.6 524.6 220.2 523.6 223.0 C522.5 225.8 523.0 225.9 524.3 228.0 C525.6 230.1 528.1 228.6 527.9 230.1 C527.6 231.6 526.6 232.8 523.6 233.0 C520.6 233.2 520.9 233.4 517.9 230.9 C514.9 228.3 515.3 228.5 513.6 224.4 C511.9 220.4 513.2 219.4 512.1 217.3 C511.1 215.1 510.4 218.4 510.0 217.3 C509.6 216.2 510.3 215.6 510.7 213.7 C511.1 211.8 510.1 212.4 511.4 210.9 Z" fill="#4a92e8" stroke="#1a3a9a" stroke-width="0.8" stroke-linejoin="round" stroke-linecap="round"/><path d="M539.3 212.7 C539.3 211.9 543.1 212.5 549.3 215.6 C555.5 218.6 553.1 217.4 557.9 221.9 C562.6 226.3 561.0 224.3 563.6 229.0 C566.1 233.7 565.6 233.0 565.4 235.9 C565.2 238.8 564.7 238.0 563.0 237.7 C561.3 237.4 561.4 238.0 560.3 235.0 C559.1 232.0 560.9 232.2 559.6 228.7 C558.3 225.2 559.9 228.0 556.4 224.4 C553.0 220.9 555.0 221.9 549.3 218.0 C543.6 214.1 539.3 213.5 539.3 212.7 Z" fill="#6fd0ee" stroke-linejoin="round" stroke-linecap="round"/><path d="M539.3 212.3 C542.3 213.1 543.7 212.4 549.3 215.1 C554.9 217.9 553.6 217.5 557.9 221.6 C562.1 225.6 561.2 224.4 563.6 228.7 C565.9 233.0 565.9 233.1 565.7 235.9 C565.5 238.6 564.6 238.2 562.9 238.0 C561.1 237.8 561.1 237.9 560.0 235.1 C558.9 232.4 559.5 230.6 559.3 228.7" fill="none" stroke="#1a3a7a" stroke-width="0.8"/><path d="M495.7 210.9 C496.2 208.5 497.1 208.7 500.7 208.0 C504.3 207.3 504.0 207.0 506.4 208.7 C508.9 210.4 508.6 210.6 508.1 213.0 C507.7 215.4 506.3 213.0 505.0 215.9 C503.7 218.7 503.7 219.0 504.3 221.6 C504.9 224.2 507.2 222.7 506.7 223.7 C506.2 224.8 505.1 225.9 502.9 224.7 C500.6 223.5 501.2 223.3 500.0 220.1 C498.8 217.0 500.7 218.2 499.3 215.1 C497.9 212.0 495.2 213.2 495.7 210.9 Z" fill="#4fd630" stroke="#145a10" stroke-width="0.9" stroke-linejoin="round" stroke-linecap="round"/><path d="M527.6 230.1 L540.4 230.1" fill="none" stroke="#111" stroke-width="1.1"/></g>
<g id="bx2"><path d="M497.7 271.1 C499.3 269.3 500.5 269.1 506.7 266.6 C512.9 264.1 513.7 263.3 518.3 262.7 C522.9 262.1 520.4 262.3 522.1 264.6 C523.9 267.0 523.3 267.2 524.1 270.4 C524.8 273.7 525.5 272.7 524.7 275.6 C523.9 278.5 524.0 277.9 521.5 280.1 C519.0 282.2 518.3 279.8 516.4 282.6 C514.4 285.5 516.4 286.4 515.1 289.7 C513.7 293.0 513.6 292.8 511.9 293.6 C510.1 294.3 509.7 295.4 509.3 292.3 C508.9 289.2 509.6 287.9 510.6 283.3 C511.5 278.7 513.3 279.9 512.5 276.9 C511.7 273.8 511.3 274.4 508.0 273.0 C504.7 271.6 504.7 272.9 501.6 272.4 C498.5 271.8 496.2 272.8 497.7 271.1 Z" fill="#5fe234" stroke="#1f8a14" stroke-width="0.9" stroke-linejoin="round" stroke-linecap="round"/><path d="M516.4 265.9 C516.8 266.8 516.1 267.0 517.6 268.5 C519.1 270.0 519.4 268.5 520.9 270.4 C522.4 272.4 521.7 273.0 522.1 274.3" fill="none" stroke="#1f8a14" stroke-width="0.7"/><path d="M524.1 264.0 C525.0 260.9 525.3 261.0 528.6 259.5 C531.9 258.0 532.1 258.1 535.0 258.9 C537.9 259.6 536.7 259.4 538.2 262.1 C539.8 264.8 538.0 265.3 540.1 267.9 C542.3 270.4 542.6 267.7 545.3 270.4 C548.0 273.1 547.8 271.8 549.1 276.9 C550.5 281.9 549.0 282.3 549.8 287.1 C550.6 292.0 550.4 290.5 551.7 292.9 C553.1 295.3 554.3 294.1 554.3 295.1 C554.3 296.2 553.6 296.9 551.7 296.4 C549.8 295.9 550.0 296.3 547.9 293.6 C545.7 290.8 546.6 291.4 544.6 287.1 C542.7 282.9 544.3 283.3 541.4 279.4 C538.5 275.6 538.9 276.8 535.0 274.3 C531.1 271.8 531.5 272.4 528.6 271.1 C525.7 269.7 526.7 271.9 525.4 269.8 C524.0 267.7 523.1 267.1 524.1 264.0 Z" fill="#4a92e8" stroke="#1c4fb8" stroke-width="0.9" stroke-linejoin="round" stroke-linecap="round"/></g>
<g id="bx3"><path d="M430.4 434.0 C433.2 430.5 433.5 431.5 441.1 428.7 C448.7 425.9 445.2 426.4 453.3 425.7 C461.4 424.9 458.9 424.6 465.4 426.4 C472.0 428.2 469.0 427.4 473.1 431.0 C477.1 434.5 475.4 433.3 477.6 437.1 C479.9 440.9 479.7 440.4 479.8 442.4 C479.9 444.4 479.8 444.7 477.9 443.0 C476.1 441.3 477.4 440.8 474.3 437.2 C471.1 433.6 473.0 434.4 468.5 432.2 C464.0 430.0 467.0 430.7 460.9 430.7 C454.8 430.6 457.3 430.6 450.2 432.1 C443.1 433.5 445.4 432.7 439.6 435.1 C433.7 437.5 435.8 439.7 432.7 439.4 C429.7 439.0 427.7 437.6 430.4 434.0 Z" fill="#78dcf2" stroke="#3aa0c8" stroke-width="0.5" stroke-linejoin="round" stroke-linecap="round"/><path d="M435.0 431.0 C438.1 428.9 438.1 428.8 445.7 426.9 C453.3 425.0 450.5 425.4 457.8 425.2 C465.2 425.0 464.7 425.5 467.7 426.3 C470.8 427.1 470.3 427.4 467.0 427.6 C463.7 427.9 464.9 426.5 457.8 427.0 C450.7 427.5 452.8 427.1 445.7 429.2 C438.6 431.2 440.1 432.7 436.5 433.3 C433.0 433.9 432.0 433.1 435.0 431.0 Z" fill="#5aa8ec" stroke-linejoin="round" stroke-linecap="round"/><path d="M417.0 422.6 C416.5 419.3 416.8 419.4 419.8 417.3 C422.7 415.2 420.8 415.5 425.9 416.2 C430.9 417.0 428.4 417.2 435.0 419.6 C441.6 422.0 438.8 421.3 445.7 423.4 C452.5 425.4 455.6 424.5 455.6 425.7 C455.6 426.8 453.0 426.6 445.7 426.7 C438.3 426.8 439.6 424.7 433.5 426.0 C427.4 427.2 431.5 430.1 427.4 430.5 C423.3 430.9 424.8 429.8 421.3 427.2 C417.9 424.5 417.6 425.9 417.0 422.6 Z" fill="#2836d2" stroke="#1a2290" stroke-width="0.5" stroke-linejoin="round" stroke-linecap="round"/><path d="M422.8 431.0 C426.1 429.2 424.9 430.5 430.4 428.7 C436.0 426.9 432.5 426.8 439.6 425.7 C446.7 424.5 450.7 424.3 451.8 425.4 C452.8 426.4 448.2 426.3 442.6 428.7 C437.0 431.1 439.6 429.5 435.0 432.5 C430.4 435.6 431.2 434.5 428.9 437.8 C426.6 441.1 426.9 440.1 428.2 442.4 C429.4 444.7 429.1 443.4 432.7 444.7 C436.4 446.0 437.8 445.0 439.1 446.4 C440.4 447.7 439.9 448.1 436.5 448.8 C433.1 449.5 434.0 449.9 428.9 448.5 C423.8 447.1 424.6 447.7 421.3 444.7 C418.0 441.6 419.3 442.9 419.0 439.4 C418.8 435.8 419.3 436.8 420.5 434.0 C421.8 431.2 419.5 432.8 422.8 431.0 Z" fill="#4a92e8" stroke="#1c4fb8" stroke-width="0.6" stroke-linejoin="round" stroke-linecap="round"/><path d="M432.7 434.8 C434.5 433.1 435.3 432.3 441.9 429.5 C448.5 426.7 451.2 426.3 452.5 426.4 C453.8 426.6 451.0 427.2 445.7 429.9 C440.3 432.6 440.8 432.9 436.5 434.5 C432.2 436.1 430.9 436.5 432.7 434.8 Z" fill="#78dcf2" stroke-linejoin="round" stroke-linecap="round"/><ellipse cx="427.7" cy="425.7" rx="3.4" ry="4.4" transform="rotate(25 427.7 425.7)" fill="#5fe234"/></g>
<g id="bx4"><path d="M525.0 420.0 C530.4 418.6 537.3 419.9 543.8 421.2 C550.2 422.6 549.7 422.6 544.2 424.0 C538.8 425.4 533.9 426.8 527.5 425.5 C521.1 424.2 519.6 421.4 525.0 420.0 Z" fill="#8adcf0" stroke="#2a7a9a" stroke-width="0.5" stroke-linejoin="round" stroke-linecap="round"/><path d="M505.0 430.0 C506.9 425.1 504.0 425.5 510.0 422.5 C516.0 419.5 519.8 419.2 525.0 420.0 C530.2 420.8 528.2 422.0 527.5 425.0 C526.8 428.0 524.0 426.6 522.5 430.0 C521.0 433.4 519.5 434.0 522.5 436.2 C525.5 438.5 525.0 438.6 532.5 437.5 C540.0 436.4 539.6 434.4 547.5 432.5 C555.4 430.6 554.1 430.1 558.8 431.2 C563.4 432.4 564.1 433.2 563.0 436.2 C561.9 439.3 561.9 439.2 555.0 441.5 C548.1 443.8 549.0 442.5 540.0 444.0 C531.0 445.5 534.0 446.2 525.0 446.5 C516.0 446.8 516.4 447.3 510.0 445.0 C503.6 442.7 505.2 443.2 503.8 438.8 C502.2 434.2 503.1 434.9 505.0 430.0 Z" fill="#4a92e8" stroke="#1a3a9a" stroke-width="0.8" stroke-linejoin="round" stroke-linecap="round"/><path d="M505.0 437.5 C506.2 433.9 507.5 434.2 512.5 433.8 C517.5 433.3 516.2 433.3 520.0 436.2 C523.8 439.2 524.8 439.5 524.0 442.5 C523.2 445.5 522.6 444.6 517.5 445.2 C512.4 445.9 512.9 447.1 508.8 444.5 C504.6 441.9 503.8 441.1 505.0 437.5 Z" fill="#5fe234" stroke="#228a18" stroke-width="0.6" stroke-linejoin="round" stroke-linecap="round"/></g>
<g id="bx5"><path d="M612.3 424.1 C615.7 422.7 614.9 423.0 621.3 422.8 C627.7 422.6 625.6 422.6 631.6 423.4 C637.6 424.3 636.2 423.9 639.3 425.4 C642.4 426.9 641.7 426.8 640.8 427.9 C640.0 429.1 641.5 429.0 636.7 428.8 C631.9 428.7 632.9 428.0 626.4 427.5 C620.0 427.1 622.6 427.8 617.4 427.5 C612.3 427.3 612.7 428.1 611.0 426.9 C609.3 425.7 608.9 425.4 612.3 424.1 Z" fill="#8adcf0" stroke="#1a4a7a" stroke-width="0.6" stroke-linejoin="round" stroke-linecap="round"/><path d="M594.3 420.9 C596.2 418.9 596.5 421.8 600.7 422.8 C605.0 423.8 603.8 423.9 608.4 424.1 C613.1 424.3 615.8 422.5 616.1 423.4 C616.5 424.4 613.2 425.0 609.7 427.3 C606.2 429.6 606.7 428.6 604.6 431.1 C602.5 433.7 602.3 432.9 602.6 435.6 C603.0 438.3 603.5 438.8 605.9 440.1 C608.2 441.5 608.4 439.6 610.4 440.1 C612.3 440.7 609.8 441.3 612.3 442.1 C614.8 442.8 616.3 441.4 618.7 442.7 C621.1 444.1 621.8 445.1 620.3 446.6 C618.7 448.0 618.7 447.6 613.6 447.5 C608.5 447.4 608.3 448.2 603.3 446.2 C598.3 444.2 600.3 444.5 596.9 440.8 C593.4 437.0 594.0 436.2 591.7 433.7 C589.4 431.2 588.4 433.8 589.1 432.4 C589.9 431.1 592.7 432.7 594.3 429.2 C595.8 425.7 592.4 422.8 594.3 420.9 Z" fill="#4a92e8" stroke="#1a3a9a" stroke-width="0.8" stroke-linejoin="round" stroke-linecap="round"/><path d="M595.6 429.9 C596.6 432.2 595.4 432.4 598.8 436.9 C602.2 441.4 600.5 440.6 605.9 443.4 C611.2 446.1 611.9 444.6 614.9 445.3" fill="none" stroke="#16307a" stroke-width="0.6"/><path d="M580.8 423.4 C581.9 421.1 582.9 421.5 586.6 420.2 C590.2 418.9 588.8 418.5 591.7 419.6 C594.6 420.6 594.2 420.2 595.2 423.4 C596.1 426.6 596.6 426.1 594.5 429.2 C592.5 432.3 592.4 432.0 589.1 432.7 C585.8 433.3 586.6 432.9 584.6 431.1 C582.7 429.3 584.6 429.9 583.4 427.3 C582.1 424.7 579.7 425.8 580.8 423.4 Z" fill="#48e222" stroke="#1f8a14" stroke-width="0.7" stroke-linejoin="round" stroke-linecap="round"/><path d="M618.5 443.0 C619.4 442.3 619.6 442.4 621.3 440.9 C623.0 439.5 622.8 439.4 623.6 438.6" fill="none" stroke="#111" stroke-width="0.9" stroke-linecap="round"/></g>
</svg>
</body>
</html>
